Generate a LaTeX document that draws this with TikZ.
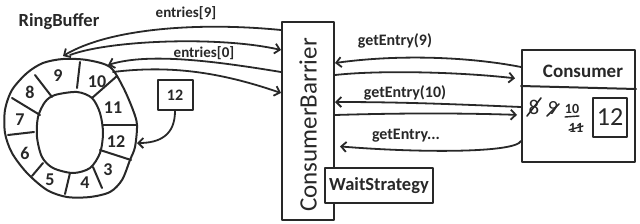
\documentclass[tikz,border=0pt]{standalone}
\usepackage{fontspec}
\setmainfont{Carlito}
\usetikzlibrary{arrows.meta}
\definecolor{ink}{RGB}{40,40,40}
\newcommand{\fs}[1]{\fontsize{#1}{#1}\selectfont\bfseries}
\newcommand{\fr}[1]{\fontsize{#1}{#1}\selectfont}
\begin{document}
\begin{tikzpicture}[x=1pt,y=-1pt, line width=2pt, color=ink, line cap=round, line join=round,
  box/.style={draw=ink, fill=white, line width=2pt, inner sep=0pt},
  conn/.style={draw=ink, line width=1.8pt, -{Straight Barb[length=5pt,width=10pt]}},
  lbl/.style={font=\fs{16}, inner sep=0pt},
  num/.style={font=\fs{18}, inner sep=0pt}
]
\useasboundingbox[fill=white] (0,0) rectangle (640,223);

% ring buffer
\draw plot[smooth cycle] coordinates {(63,59) (87,60) (110,67) (123,87) (133,110) (137,125) (135,147) (130,160) (122,180) (110,192) (90,197) (67,197) (47,190) (27,173) (12,153) (5,133) (5,110) (12,90) (27,73) (43,63)};
\draw plot[smooth cycle] coordinates {(55,95) (77,92) (92,98) (100,113) (103,133) (100,153) (90,168) (73,173) (53,168) (42,157) (37,137) (38,117) (45,102)};
\draw (80,62) -- (77,88);
\draw (117,76) -- (92,98);
\draw (137,125) -- (103,125);
\draw (100,150) -- (131,160);
\draw (93,167) -- (102,188);
\draw (70,173) -- (65,194);
\draw (43,163) -- (32,176);
\draw (34,132) -- (8,135);
\draw (40,115) -- (12,98);
\draw (52,97) -- (35,75);
\node[num] (n9) at (58,76) {9};
\node[num] (n10) at (97,82) {10};
\node[num] (n11) at (113,108) {11};
\node[num] (n12) at (116,142) {12};
\node[num] (n3) at (108,170) {3};
\node[num] (n4) at (85,183) {4};
\node[num] (n5) at (50,180) {5};
\node[num] (n6) at (25,153) {6};
\node[num] (n7) at (20,120) {7};
\node[num] (n8) at (30,92) {8};
\node[font=\fs{18.5}, inner sep=0pt] (rb) at (59,22) {RingBuffer};

\coordinate (r9) at (63,56);
\coordinate (r9b) at (70,55);
\coordinate (r10) at (108,65);
\coordinate (r10b) at (113,72);
\coordinate (r12) at (137,143);

% small box 12
\node[box, minimum width=35pt, minimum height=30pt, font=\fs{16}] (b12) at (175,95) {12};
\draw[conn] (b12.south) .. controls (175,135) and (160,143) .. (r12);

% consumer barrier
\node[box, minimum width=52pt, minimum height=198pt] (barrier) at (308,121) {};
\node[rotate=90, font=\fr{25}, inner sep=0pt] (bt) at (308,125) {ConsumerBarrier};
\node[box, minimum width=108pt, minimum height=35pt, font=\fs{18.5}] (wait) at (379,185.5) {WaitStrategy};

% consumer
\node[box, minimum width=113pt, minimum height=112pt] (consumer) at (578.5,106) {};
\draw (consumer.west |- 0,86) -- (consumer.east |- 0,89);
\node[font=\fs{19}, inner sep=0pt] (ct) at (583,71) {Consumer};
\node[font=\fr{21}, inner sep=0pt] (c8) at (534,107) {8};
\draw[line width=1.6pt] (527,116) -- (541,98);
\node[font=\fr{20}, inner sep=0pt] (c9) at (553,108) {9};
\draw[line width=1.6pt] (547,116) -- (559,104);
\node[font=\fs{14}, inner sep=0pt] (c10) at (572,109) {10};
\draw[line width=1.4pt] (565,117) -- (579,116);
\node[font=\fs{14}, inner sep=0pt] (c11) at (576,128) {11};
\draw[line width=1.4pt] (569,130) -- (583,126);
\node[box, minimum width=34pt, minimum height=39pt, font=\fr{26}] (c12) at (610,117.5) {12};

% ring <-> barrier
\draw[conn] (barrier.west |- 0,30) .. controls (200,22) and (110,28) .. (r9);
\draw[conn] (r9b) .. controls (110,40) and (220,36) .. (barrier.west |- 0,50);
\draw[conn] (barrier.west |- 0,72) .. controls (220,62) and (150,52) .. (r10);
\draw[conn] (r10b) .. controls (170,65) and (220,72) .. (barrier.west |- 0,93);
\node[lbl, font=\fs{15}] (e9) at (186,13) {entries[9]};
\node[lbl, font=\fs{15}] (e0) at (204,53) {entries[0]};

% barrier <-> consumer
\draw[conn] (consumer.west |- 0,67) .. controls (470,57) and (400,54) .. (barrier.east |- 0,63);
\draw[conn, shorten >=6pt] (barrier.east |- 0,75) .. controls (380,70) and (460,72) .. (consumer.west |- 0,79);
\draw[conn] (consumer.west |- 0,107) .. controls (450,104) and (400,102) .. (barrier.east |- 0,102);
\draw[conn, shorten >=4pt] (barrier.east |- 0,115) .. controls (400,113) and (460,113) .. (consumer.west |- 0,115);
\draw[conn, shorten >=5pt] (consumer.west |- 0,141) .. controls (515,153) and (420,153) .. (barrier.east |- 0,146);
\node[lbl] (g9) at (395,41) {getEntry(9)};
\node[lbl] (g10) at (405,93) {getEntry(10)};
\node[lbl] (g) at (406,136) {getEntry...};
\end{tikzpicture}
\end{document}
